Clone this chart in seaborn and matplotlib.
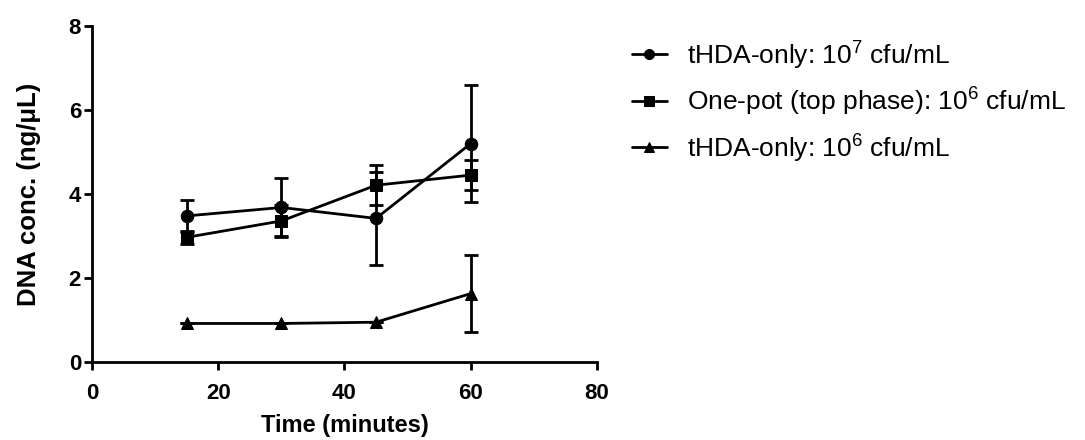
import numpy as np
import pandas as pd
import matplotlib.pyplot as plt
import seaborn as sns

# values
time_min = [15, 30, 45, 60]
labels = ["tHDA-only: 10$^7$ cfu/mL",
          "One-pot (top phase): 10$^6$ cfu/mL",
          "tHDA-only: 10$^6$ cfu/mL"]
conc_thda7 = [3.48, 3.68, 3.42, 5.20]
err_thda7 = [0.39, 0.69, 1.10, 1.40]
conc_onepot = [2.97, 3.36, 4.21, 4.45]
err_onepot = [0.15, 0.39, 0.48, 0.35]
conc_thda6 = [0.92, 0.92, 0.95, 1.63]
err_thda6 = [0.0, 0.0, 0.0, 0.91]
markers = ["o", "s", "^"]

sns.set_theme(style="ticks")
plt.rcParams['font.family'] = ['Liberation Sans', 'DejaVu Sans']
plt.rcParams['mathtext.fontset'] = 'custom'
plt.rcParams['mathtext.rm'] = 'Liberation Sans'
plt.rcParams['text.color'] = 'black'
plt.rcParams['axes.labelcolor'] = 'black'
plt.rcParams['xtick.color'] = 'black'
plt.rcParams['ytick.color'] = 'black'

fig = plt.figure(figsize=(10.85, 4.4), dpi=100)
ax = fig.add_axes([0.085, 0.177, 0.465, 0.764])

series = [conc_thda7, conc_onepot, conc_thda6]
errs = [err_thda7, err_onepot, err_thda6]
for lab, y, e, m in zip(labels, series, errs, markers):
    df = pd.DataFrame({"t": time_min, "c": y})
    sns.lineplot(data=df, x="t", y="c", marker=m, markersize=9, color="black",
                 linewidth=2, markeredgecolor="black", label=lab, ax=ax)
    ax.errorbar(time_min, y, yerr=e, fmt="none", ecolor="black",
                elinewidth=2, capsize=5, capthick=2)

ax.set_xlim(0, 80)
ax.set_ylim(0, 8)
ax.set_xticks([0, 20, 40, 60, 80])
ax.set_yticks([0, 2, 4, 6, 8])
ax.set_xlabel("Time (minutes)", fontsize=17, fontweight="bold", labelpad=7)
ax.set_ylabel("DNA conc. (ng/μL)", fontsize=18.5, fontweight="bold", labelpad=20)
ax.tick_params(axis="both", labelsize=16, width=2, length=6, color="black")
ax.tick_params(axis="x", pad=9)
ax.tick_params(axis="y", pad=2)
for lbl in ax.get_xticklabels() + ax.get_yticklabels():
    lbl.set_fontweight("bold")
for s in ["left", "bottom"]:
    ax.spines[s].set_linewidth(2)
    ax.spines[s].set_color("black")
sns.despine(ax=ax)

ax.legend(loc="upper left", bbox_to_anchor=(0.573, 0.938), bbox_transform=fig.transFigure,
          frameon=False, fontsize=19, handlelength=1.3, handletextpad=0.76,
          labelspacing=0.52, markerscale=0.8, borderpad=0.4, borderaxespad=0)

fig.savefig("out.png", dpi=100)
